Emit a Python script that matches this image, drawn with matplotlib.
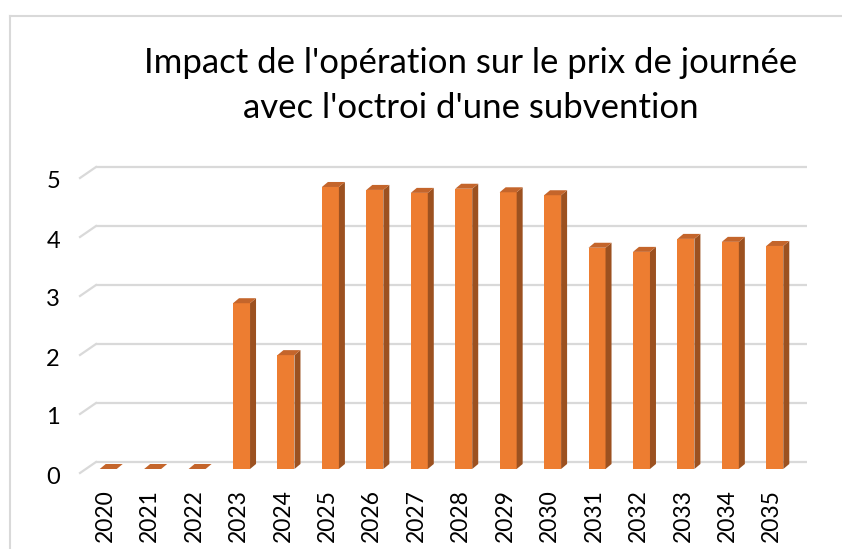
import matplotlib
matplotlib.use('Agg')
import matplotlib.pyplot as plt
from matplotlib.patches import Polygon
from matplotlib.lines import Line2D

# ---- data ----
years = [str(y) for y in range(2020, 2036)]
values = [0, 0, 0, 2.81, 1.93, 4.78, 4.73, 4.68, 4.75, 4.69, 4.64,
          3.75, 3.68, 3.90, 3.85, 3.78]
yticks = [0, 1, 2, 3, 4, 5]
title_lines = ["Impact de l'opération sur le prix de journée",
               "avec l'octroi d'une subvention"]

# ---- style ----
FONT = 'Lato'
plt.rcParams['font.family'] = [FONT, 'DejaVu Sans']
W, H = 842, 549
front = '#ED7D31'
side = '#9C5120'
top = '#C4652B'
grid = '#D9D9D9'

fig = plt.figure(figsize=(W / 100, H / 100), dpi=100)
ax = fig.add_axes([86 / W, (H - 469) / H, 711 / W, 295 / H])
xmin, xmax = -0.5, len(years) - 0.5
ax.set_xlim(xmin, xmax)
ax.set_ylim(0, 5)
ax.axis('off')

pxx = 711 / (xmax - xmin)   # pixels per category
pxy = 295 / 5               # pixels per unit

# depth offsets (pixels -> data)
bdx, bdy = 6 / pxx, 5 / pxy       # bar depth
wdx, wdy = 10 / pxx, 7 / pxy      # back wall offset
fdx, fdy = -6 / pxx, -4 / pxy     # floor front edge offset

# gridlines on back wall + left diagonal
for v in yticks:
    ax.plot([xmin + wdx, xmax + wdx], [v + wdy, v + wdy], color=grid,
            lw=1.6, clip_on=False, zorder=1, solid_capstyle='butt')
    ax.plot([xmin + fdx, xmin + wdx], [v + fdy, v + wdy], color=grid,
            lw=1.6, clip_on=False, zorder=1)
    ax.text(xmin - 26 / pxx, v - 8 / pxy, str(v), ha='right', va='center',
            fontsize=17, color='#000000')

bw = 17 / pxx
x = list(range(len(years)))
ax.bar(x, values, width=bw, color=front, zorder=3, clip_on=False)
for i, v in enumerate(values):
    l, r = i - bw / 2, i + bw / 2
    ax.add_patch(Polygon([(r, 0), (r + bdx, bdy), (r + bdx, v + bdy), (r, v)],
                         closed=True, facecolor=side, edgecolor='none',
                         zorder=3, clip_on=False))
    ax.add_patch(Polygon([(l, v), (r, v), (r + bdx, v + bdy), (l + bdx, v + bdy)],
                         closed=True, facecolor=top, edgecolor='none',
                         zorder=4, clip_on=False))
    ax.text(i - 3 / pxx, -20 / pxy, years[i], rotation=90, ha='center', va='top',
            fontsize=16.5, color='#000000')

# title
fig.text(471 / W, 1 - 73 / H, title_lines[0], ha='center', va='baseline',
         fontsize=25, color='#000000')
fig.text(471 / W, 1 - 118 / H, title_lines[1], ha='center', va='baseline',
         fontsize=25, color='#000000')

# chart border
fig.add_artist(Line2D([10 / W, 1], [1 - 16 / H, 1 - 16 / H], color=grid, lw=1.5,
                      transform=fig.transFigure))
fig.add_artist(Line2D([10 / W, 10 / W], [0, 1 - 16 / H], color=grid, lw=1.5,
                      transform=fig.transFigure))

fig.savefig('out.png', dpi=100)
